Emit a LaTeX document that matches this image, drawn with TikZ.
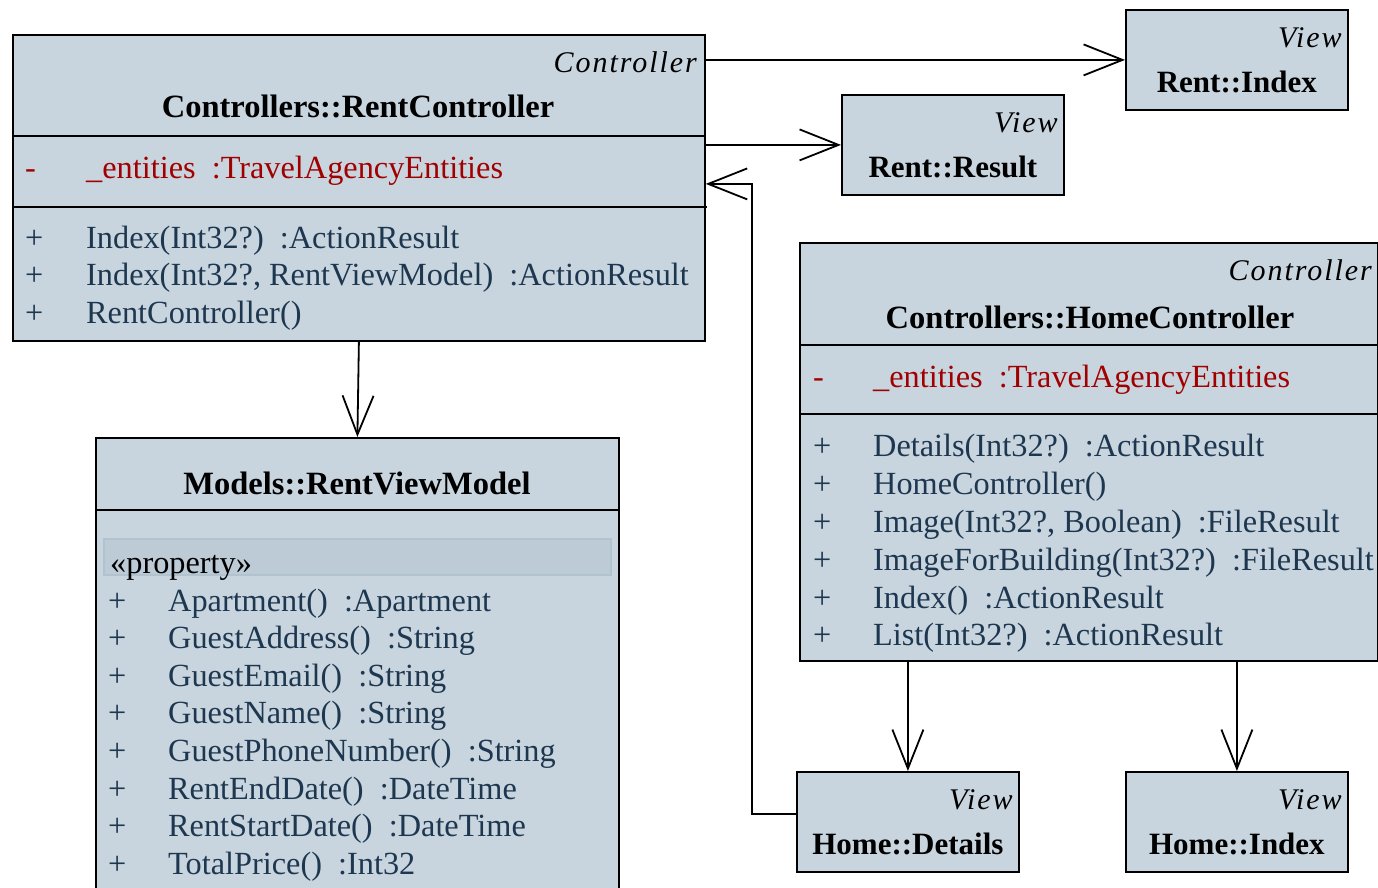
\documentclass[tikz,border=0pt]{standalone}
\usepackage{fontspec}
\setmainfont{Liberation Serif}[ItalicFeatures={LetterSpace=6.5}]
\usetikzlibrary{arrows.meta}
\definecolor{classfill}{RGB}{200,213,222}
\definecolor{membertext}{RGB}{30,55,80}
\definecolor{fieldtext}{RGB}{160,0,0}
\definecolor{bandfill}{RGB}{188,203,214}
\definecolor{bandline}{RGB}{178,195,208}
\begin{document}
\begin{tikzpicture}[x=1pt, y=-1pt,
    box/.style={draw, fill=classfill, line width=1.8pt, anchor=north west, inner sep=0pt},
    stereo/.style={anchor=base east, inner sep=0pt, font=\fontsize{30}{32}\selectfont\itshape},
    title/.style={anchor=base, inner sep=0pt, font=\fontsize{32.5}{34}\selectfont\bfseries},
    viewtitle/.style={title, font=\fontsize{31}{34}\selectfont\bfseries},
    member/.style={anchor=base west, inner sep=0pt, text=membertext, font=\fontsize{32.3}{34}\selectfont},
    field/.style={member, text=fieldtext},
    sep/.style={line width=1.8pt},
    dep/.style={line width=1.8pt, -{Straight Barb[length=39pt, width=31pt, line width=1.8pt]}}]
    \clip (0,0) rectangle (1378,887);

    \node[box, minimum width=692pt, minimum height=306pt] (rc) at (12,34) {};
    \draw[sep] (12,136) -- (704,136);
    \draw[sep] (12,207) -- (707,207);
    \node[stereo] (rcst) at (697,72) {Controller};
    \node[title] (rctt) at (358,117) {Controllers::RentController};
    \node[field] (rcfv) at (25,178) {-};
    \node[field] (rcf) at (86,178) {\_entities\ \ :TravelAgencyEntities};
    \foreach \txt [count=\i] in {Index(Int32?)\ \ :ActionResult,
        {Index(Int32?, RentViewModel)\ \ :ActionResult}, RentController()} {
        \node[member] (rcmv\i) at (25,210.8+37.5*\i) {+};
        \node[member] (rcm\i) at (86,210.8+37.5*\i) {\txt};
    }

    \node[box, minimum width=523pt, minimum height=470pt] (rvm) at (95,437) {};
    \draw[sep] (95,510) -- (618,510);
    \node[title] (rvmtt) at (357,494) {Models::RentViewModel};
    \node[draw=bandline, fill=bandfill, line width=1.5pt, anchor=north west, inner sep=0pt,
        minimum width=507pt, minimum height=36pt] (band) at (103,538) {};
    \node[member, text=black] (prop) at (110,573) {«property»};
    \foreach \txt [count=\i] in {Apartment()\ \ :Apartment, GuestAddress()\ \ :String,
        GuestEmail()\ \ :String, GuestName()\ \ :String, GuestPhoneNumber()\ \ :String,
        RentEndDate()\ \ :DateTime, RentStartDate()\ \ :DateTime, TotalPrice()\ \ :Int32} {
        \node[member] (rvmv\i) at (108,573.4+37.6*\i) {+};
        \node[member] (rvm\i) at (168,573.4+37.6*\i) {\txt};
    }

    \node[box, minimum width=578pt, minimum height=418pt] (hc) at (799,242) {};
    \draw[sep] (799,345) -- (1377,345);
    \draw[sep] (799,414) -- (1377,414);
    \node[stereo] (hcst) at (1372,280) {Controller};
    \node[title] (hctt) at (1090,328) {Controllers::HomeController};
    \node[field] (hcfv) at (813,387) {-};
    \node[field] (hcf) at (873,387) {\_entities\ \ :TravelAgencyEntities};
    \foreach \txt [count=\i] in {Details(Int32?)\ \ :ActionResult, HomeController(),
        {Image(Int32?, Boolean)\ \ :FileResult}, ImageForBuilding(Int32?)\ \ :FileResult,
        Index()\ \ :ActionResult, List(Int32?)\ \ :ActionResult} {
        \node[member] (hcmv\i) at (813,419+37.8*\i) {+};
        \node[member] (hcm\i) at (873,419+37.8*\i) {\txt};
    }

    \foreach \nm/\x/\y/\txt in {ri/1125/9/Rent::Index, rr/841/94/Rent::Result,
        hd/796/771/Home::Details, hi/1125/771/Home::Index} {
        \node[box, minimum width=222pt, minimum height=100pt] (\nm) at (\x,\y) {};
        \node[stereo] (\nm st) at ([xshift=-7pt, yshift=-38pt]\nm.north east) {View};
        \node[viewtitle] (\nm tt) at ([yshift=-83pt]\nm.north) {\txt};
    }

    \draw[dep] (rc.east |- ri.west) -- (ri.west);
    \draw[dep] (rc.east |- rr.west) -- (rr.west);
    \draw[dep] (rc.south) -- (rvm.north);
    \draw[dep] ([yshift=8pt]hd.west) -- ++(-44,0) |- ([yshift=4pt]rc.east);
    \draw[dep] (hd.north |- hc.south) -- (hd.north);
    \draw[dep] (hi.north |- hc.south) -- (hi.north);
\end{tikzpicture}
\end{document}
